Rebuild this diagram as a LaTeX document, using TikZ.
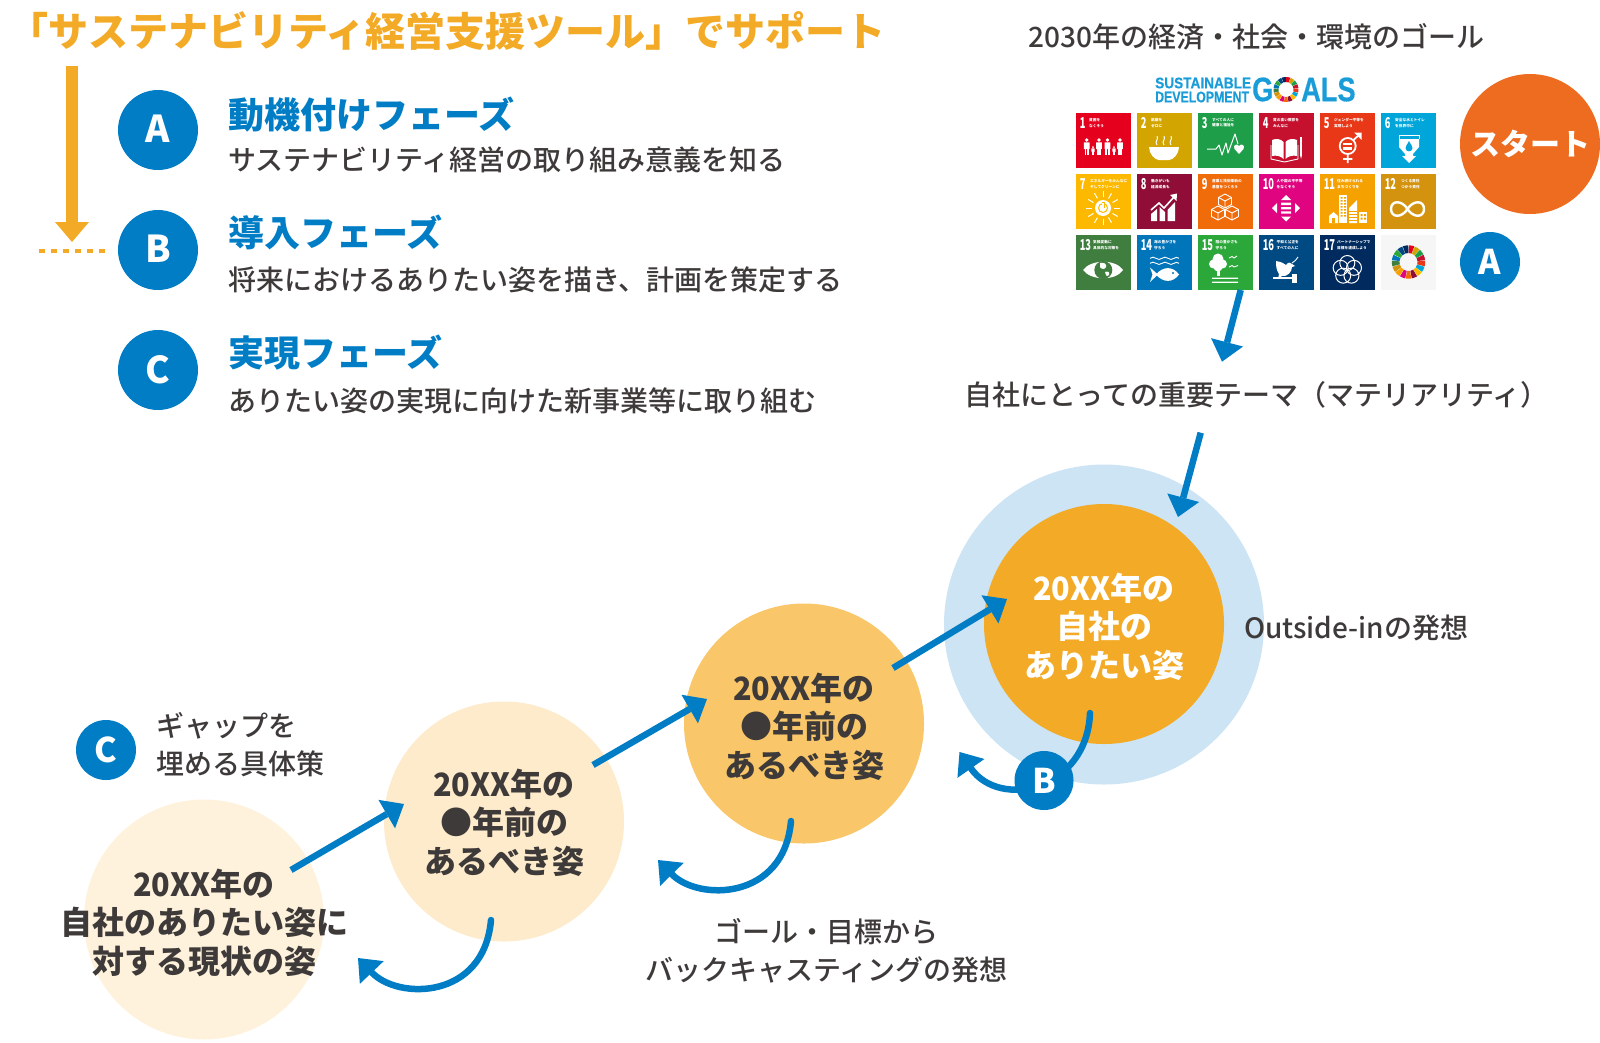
\documentclass[tikz,border=0pt]{standalone}
\usepackage{fontspec}
\usepackage{graphicx}
\setmainfont{Noto Sans CJK JP}
\newfontfamily\jpmedium{Noto Sans CJK JP Medium}
\newfontfamily\logofont[FakeBold=0.5]{Liberation Sans Bold}
\newcommand\xx{\scalebox{.955}[1]{20XX}}
\usetikzlibrary{arrows.meta}
\definecolor{bluemain}{HTML}{007DC5}
\definecolor{orangemain}{HTML}{F3AA26}
\definecolor{inkmain}{HTML}{3E3A39}
\definecolor{ringblue}{HTML}{CCE4F4}
\definecolor{stepthree}{HTML}{F9C769}
\definecolor{steptwo}{HTML}{FDEBCB}
\definecolor{stepone}{HTML}{FEF2DC}
\definecolor{startorange}{HTML}{ED6C20}
\definecolor{logoblue}{HTML}{1A9CD8}
\definecolor{g1}{HTML}{E5001E}
\definecolor{g2}{HTML}{D3A500}
\definecolor{g3}{HTML}{1E9E48}
\definecolor{g4}{HTML}{C5102E}
\definecolor{g5}{HTML}{E83818}
\definecolor{g6}{HTML}{00A6D9}
\definecolor{g7}{HTML}{FDB900}
\definecolor{g8}{HTML}{8F0D36}
\definecolor{g9}{HTML}{F06C0B}
\definecolor{g10}{HTML}{E00480}
\definecolor{g11}{HTML}{F5A200}
\definecolor{g12}{HTML}{D3930F}
\definecolor{g13}{HTML}{3F7E3E}
\definecolor{g14}{HTML}{0075BA}
\definecolor{g15}{HTML}{2CA83A}
\definecolor{g16}{HTML}{004A84}
\definecolor{g17}{HTML}{012A5F}
\definecolor{g18}{HTML}{F6F6F6}
\tikzset{
  txt/.style={inner sep=0pt,outer sep=0pt,text=inkmain},
  badge/.style={circle,fill=bluemain,inner sep=0pt,outer sep=0pt,text=white,font=\fontsize{37}{37}\selectfont\bfseries},
  badgesmall/.style={badge,font=\fontsize{34}{34}\selectfont\bfseries},
  stepcircle/.style={circle,inner sep=0pt,outer sep=0pt,minimum size=240pt},
  steptext/.style={inner sep=0pt,outer sep=0pt,align=center,text=inkmain,font=\fontsize{32}{38.5}\selectfont\bfseries},
  phasehead/.style={txt,anchor=west,text=bluemain,font=\fontsize{36}{36}\selectfont\bfseries},
  phasesub/.style={txt,anchor=west,font=\fontsize{28}{28}\selectfont\jpmedium},
  plainlabel/.style={txt,align=center,font=\fontsize{28}{38}\selectfont\jpmedium},
  flow/.style={draw=bluemain,line width=6.5pt,-{Triangle[length=20pt,width=33pt,line width=0pt]}},
  flowcurve/.style={flow,line cap=round},
  ic/.style={white,line width=.9pt},
  tilenum/.style={inner sep=0pt,anchor=west,text=white,font=\fontsize{15}{15}\selectfont\bfseries},
  tiletitle/.style={inner sep=0pt,anchor=west,text=white,font=\fontsize{3.7}{5.2}\selectfont\bfseries},
  logosmall/.style={inner sep=0pt,anchor=west,text=logoblue,font=\logofont\fontsize{15.4}{15.4}\selectfont},
  logolarge/.style={inner sep=0pt,anchor=west,text=logoblue,font=\logofont\fontsize{34}{34}\selectfont},
}
\newcommand\sdgwheel[4]{%
  \begin{scope}[shift={(#1,#2)}]
  \foreach \i in {1,...,17}{
    \fill[g\i] ({\i*21.176-110.2}:#3) -- ({\i*21.176-100.6}:#3) -- ({\i*21.176-91}:#3)
       -- ({\i*21.176-91}:#4) -- ({\i*21.176-110.2}:#4) -- cycle;
  }
  \end{scope}}
\newcommand\sdgtile[8]{%
  \begin{scope}[shift={(#1,#2)}]
    \fill[#3] (0,0) rectangle (55,55);
    \node[tilenum] (tn#4) at (3.6,10) {\scalebox{.62}[1]{#4}};
    \node[tiletitle,align=left] (tt#4) at (#7,10) {#5\\#6};
    #8
  \end{scope}}
\newcommand\pers[3]{%
  \fill[white] (#1,#2+.12*#3) circle (.11*#3);
  \fill[white,rounded corners=.4pt] (#1-.17*#3,#2+.25*#3) rectangle (#1+.17*#3,#2+.65*#3);
  \fill[white] (#1-.13*#3,#2+.6*#3) rectangle (#1-.02*#3,#2+#3);
  \fill[white] (#1+.02*#3,#2+.6*#3) rectangle (#1+.13*#3,#2+#3);}
\newcommand\isocube[2]{%
  \begin{scope}[shift={(#1,#2)}]
  \draw[ic,line join=round] (0,-7) -- (6.5,-3.5) -- (6.5,3.5) -- (0,7) -- (-6.5,3.5) -- (-6.5,-3.5) -- cycle;
  \draw[ic] (-6.5,-3.5) -- (0,0) -- (6.5,-3.5) (0,0) -- (0,7);
  \end{scope}}
\begin{document}
\begin{tikzpicture}[x=1pt,y=-1pt]
\useasboundingbox (0,0) rectangle (1600,1042);

% title and phase list
\node[txt,anchor=west,text=orangemain,font=\fontsize{40}{40}\selectfont\bfseries] (title) at (9,31) {「サステナビリティ経営支援ツール」でサポート};
\coordinate (orangeS) at (72,66);
\coordinate (orangeE) at (72,242);
\draw[orangemain,line width=12pt,-{Triangle[length=20pt,width=34pt,line width=0pt]}] (orangeS) -- (orangeE);
\coordinate (dotS) at (39,251);
\coordinate (dotE) at (105,251);
\draw[orangemain,line width=4pt,dash pattern=on 6pt off 6pt] (dotS) -- (dotE);

\node[badge,minimum size=80pt] (phA) at (158,130) {\raisebox{2pt}{A}};
\node[badge,minimum size=80pt] (phB) at (158,250) {\raisebox{2pt}{B}};
\node[badge,minimum size=80pt] (phC) at (158,370) {\raisebox{2pt}{C}};
\node[phasehead] (hA) at (228,115) {動機付けフェーズ};
\node[phasesub] (sA) at (228,160) {サステナビリティ経営の取り組み意義を知る};
\node[phasehead] (hB) at (228,232.5) {導入フェーズ};
\node[phasesub] (sB) at (228,280) {将来におけるありたい姿を描き、計画を策定する};
\node[phasehead] (hC) at (228,353) {実現フェーズ};
\node[phasesub] (sC) at (228,400.5) {ありたい姿の実現に向けた新事業等に取り組む};

% top right
\node[plainlabel] (goal2030) at (1256.5,37) {2030年の経済・社会・環境のゴール};
\node[logosmall] (logoA) at (1155,83) {\scalebox{.885}[1]{SUSTAINABLE}};
\node[logosmall] (logoB) at (1155,97) {\scalebox{.80}[1]{DEVELOPMENT}};
\node[logolarge] (logoG) at (1252,89.5) {\scalebox{.8}[1]{G}};
\sdgwheel{1286}{89.5}{12.5}{7.5}
\node[logolarge] (logoC) at (1301,89.5) {\scalebox{.8}[1]{ALS}};

\sdgtile{1076}{113}{g1}{1}{貧困を}{なくそう}{13}{
  \pers{10.7}{25}{17}\pers{23}{25}{17}\pers{31.5}{25}{17}\pers{44}{25}{17}\pers{17}{33}{9}\pers{38}{33}{9}}
\sdgtile{1137}{113}{g2}{2}{飢餓を}{ゼロに}{14}{
  \fill[white] (12,34) -- (42,34) .. controls (42,41) and (36,47) .. (32,47) -- (22,47) .. controls (18,47) and (12,41) .. (12,34) -- cycle;
  \foreach \x in {20,27,34}{\draw[white,line width=1pt] (\x,32) .. controls (\x-3,28) and (\x+2,27) .. (\x,23);}}
\sdgtile{1198}{113}{g3}{3}{すべての人に}{健康と福祉を}{14}{
  \draw[white,line width=1pt,line join=round] (9,36) -- (18,36) -- (21,32) -- (24,42) -- (28,30) -- (30,40) -- (37,21) -- (40,31);
  \fill[white] (41,41) -- (36.5,36) .. controls (34.5,32) and (39,30) .. (41,33) .. controls (43,30) and (47.5,32) .. (45.5,36) -- cycle;}
\sdgtile{1259}{113}{g4}{4}{質の高い教育を}{みんなに}{14}{
  \fill[white] (13,27) .. controls (17,25) and (22,26) .. (24.5,29) -- (24.5,46) .. controls (22,43) and (17,42) .. (13,43) -- cycle;
  \fill[white] (26.5,29) .. controls (29,26) and (34,25) .. (38,27) -- (38,43) .. controls (34,42) and (29,43) .. (26.5,46) -- cycle;
  \draw[ic] (12,32) -- (12,46) -- (25.5,49) -- (39,46) -- (39,32);
  \fill[white] (41,24) rectangle (43,42);
  \fill[white] (41,42) -- (43,42) -- (42,46) -- cycle;}
\sdgtile{1320}{113}{g5}{5}{ジェンダー平等を}{実現しよう}{14}{
  \draw[white,line width=1.8pt] (27.7,33) circle (8);
  \fill[white] (23,29.5) rectangle (32.4,31.7);
  \fill[white] (23,34.3) rectangle (32.4,36.5);
  \draw[white,line width=1.8pt] (27.7,41) -- (27.7,50) (23,46) -- (32.4,46) (33.5,27) -- (40,21);
  \fill[white] (34,19.5) -- (41.5,19.5) -- (41.5,27) -- cycle;}
\sdgtile{1381}{113}{g6}{6}{安全な水とトイレ}{を世界中に}{14}{
  \fill[white] (18,26) -- (38,26) -- (38,34) -- (32,41) -- (32,43) -- (35,43) -- (28,50) -- (21,43) -- (24,43) -- (24,41) -- (18,34) -- cycle;
  \draw[ic] (18,26) -- (18,22) -- (38,22) -- (38,26);
  \fill[g6] (28,28) .. controls (26,32) and (24.5,33) .. (24.5,35) .. controls (24.5,39.5) and (31.5,39.5) .. (31.5,35) .. controls (31.5,33) and (30,32) .. (28,28) -- cycle;}
\sdgtile{1076}{174}{g7}{7}{エネルギーをみんなに}{そしてクリーンに}{14}{
  \begin{scope}[shift={(27,34)}]
  \foreach \a in {0,30,...,330}{\draw[white,line width=1pt] (\a:11) -- (\a:17);}
  \fill[white] (0,0) circle (8);
  \draw[g7,line width=1pt] (0,0) circle (4.5);
  \fill[g7] (-1.5,-6) rectangle (1.5,0);
  \fill[white] (-.6,-5.5) rectangle (.6,.5);
  \end{scope}}
\sdgtile{1137}{174}{g8}{8}{働きがいも}{経済成長も}{14}{
  \fill[white] (14,40) -- (20,35) -- (20,47) -- (14,47) -- cycle;
  \fill[white] (22.5,33) -- (28,38) -- (28,47) -- (22.5,47) -- cycle;
  \fill[white] (30.5,36) -- (38,28) -- (38,47) -- (30.5,47) -- cycle;
  \draw[white,line width=1.6pt] (14,36) -- (22,29) -- (27,34) -- (37,23);
  \fill[white] (33,21) -- (40,19.5) -- (39.5,27) -- cycle;}
\sdgtile{1198}{174}{g9}{9}{産業と技術革新の}{基盤をつくろう}{14}{
  \isocube{27}{27}\isocube{20}{39}\isocube{34}{39}}
\sdgtile{1259}{174}{g10}{10}{人や国の不平等}{をなくそう}{17.5}{
  \fill[white] (27,21) -- (32,26) -- (22,26) -- cycle;
  \fill[white] (27,47.5) -- (32,42.5) -- (22,42.5) -- cycle;
  \fill[white] (13,34.2) -- (18,29.2) -- (18,39.2) -- cycle;
  \fill[white] (41,34.2) -- (36,29.2) -- (36,39.2) -- cycle;
  \fill[white] (22,28.7) rectangle (32,31) (22,33) rectangle (32,35.4) (22,37.4) rectangle (32,39.7);}
\sdgtile{1320}{174}{g11}{11}{住み続けられる}{まちづくりを}{17}{
  \fill[white] (19,21) rectangle (27,49);
  \foreach \y in {23,26,29,32,35,38,41}{\fill[g11] (20.5,\y) rectangle (22.5,\y+1.5) (24,\y) rectangle (26,\y+1.5);}
  \fill[white] (29,49) -- (29,34) -- (37,26) -- (37,49) -- cycle;
  \foreach \y in {37,40,43,46}{\draw[g11,line width=.4pt] (29,\y) -- (37,\y);}
  \fill[white] (39,38) rectangle (47,49);
  \foreach \y in {40,43.5}{\fill[g11] (40.5,\y) rectangle (42.5,\y+2) (44,\y) rectangle (46,\y+2);}
  \fill[white] (9,49) -- (9,42) -- (13.5,38) -- (18,42) -- (18,49) -- cycle;
  \fill[g11] (12,44) rectangle (15,49);}
\sdgtile{1381}{174}{g12}{12}{つくる責任}{つかう責任}{20}{
  \draw[white,line width=2.4pt] (26.5,35) .. controls (21,26) and (10,26) .. (10,35) .. controls (10,44) and (21,44) .. (26.5,35) .. controls (32,26) and (43,26) .. (43,35) .. controls (43,44) and (32,44) .. (26.5,35) -- cycle;}
\sdgtile{1076}{235}{g13}{13}{気候変動に}{具体的な対策を}{17}{
  \fill[white] (7,35) .. controls (15,24) and (40,24) .. (47,35) .. controls (40,46) and (15,46) .. (7,35) -- cycle;
  \fill[g13] (27.3,35) circle (9);
  \fill[white] (24,28) .. controls (28,27) and (31,29) .. (30,32) .. controls (29,35) and (25,34) .. (24,32) -- cycle;
  \fill[white] (29,37) .. controls (32,36) and (34,37) .. (33,40) .. controls (32,42) and (30,42) .. (29,37) -- cycle;}
\sdgtile{1137}{235}{g14}{14}{海の豊かさを}{守ろう}{17}{
  \foreach \y in {23.3,28.3}{
    \draw[ic] (13,\y) .. controls (15,\y-1.5) and (17,\y-1.5) .. (19,\y) .. controls (21,\y+1.5) and (23,\y+1.5) .. (25,\y) .. controls (27,\y-1.5) and (29,\y-1.5) .. (31,\y) .. controls (33,\y+1.5) and (35,\y+1.5) .. (37,\y) .. controls (38.5,\y-1.2) and (40,\y-1.2) .. (42,\y);}
  \fill[white] (19,39.5) .. controls (26,31) and (36,31) .. (42,39.5) .. controls (36,48) and (26,48) .. (19,39.5) -- cycle;
  \fill[white] (13,32.5) -- (21,39.5) -- (13,47) -- (15.5,39.5) -- cycle;
  \fill[g14] (36,38) circle (1.2);}
\sdgtile{1198}{235}{g15}{15}{陸の豊かさも}{守ろう}{17.5}{
  \fill[white] (19,31) rectangle (21.5,41);
  \fill[white] (20,24) circle (5.5) (15.5,29) circle (4.5) (24.5,29) circle (4.5) (20,32) circle (4.5);
  \fill[white] (14,42.5) rectangle (40,43.8) (14,46.5) rectangle (40,47.8);
  \draw[ic] (31,23) -- (34,21.5) -- (36,23) -- (39,21);
  \draw[ic] (31,32) -- (34,30.5) -- (36,32) -- (40,30.5);}
\sdgtile{1259}{235}{g16}{16}{平和と公正を}{すべての人に}{17.5}{
  \fill[white] (17,26) .. controls (22,27) and (25,28) .. (27,30) .. controls (29,27) and (32,27) .. (33,29) -- (36,31) -- (33,32) .. controls (33,37) and (28,42) .. (23,41) -- (19,44) -- (20,39) .. controls (17,35) and (17,30) .. (17,26) -- cycle;
  \draw[ic] (33,28) .. controls (35,27) and (37,25) .. (39,22);
  \fill[white] (14,42.2) rectangle (33,44);
  \fill[white] (33,38.5) rectangle (38,47.5);}
\sdgtile{1320}{235}{g17}{17}{パートナーシップで}{目標を達成しよう}{17}{
  \begin{scope}[shift={(27.3,35)}]
  \foreach \a in {-90,-18,54,126,198}{\draw[white,line width=1pt] (\a:7) circle (7.5);}
  \end{scope}}
\fill[g18] (1381,235) rectangle (1436,290);
\sdgwheel{1408.5}{262}{16.7}{9}

\node[badge,minimum size=140pt,font=\fontsize{30}{30}\selectfont\bfseries,fill=startorange] (start) at (1530,144) {\raisebox{3pt}{スタート}};
\node[badgesmall,minimum size=60pt] (markA) at (1490,262) {\raisebox{1pt}{A}};
\node[plainlabel] (materiality) at (1256.5,395) {自社にとっての重要テーマ（マテリアリティ）};
\coordinate (sdgOut) at (1240.7,290);
\coordinate (matIn) at (1222,361.7);
\draw[flow] (sdgOut) -- (matIn);

% steps
\node[circle,fill=ringblue,inner sep=0pt,minimum size=320pt] (ring) at (1104,624.5) {};
\node[stepcircle,fill=orangemain] (stepD) at (1104,624) {};
\node[stepcircle,fill=stepthree] (stepC) at (804,723.5) {};
\node[stepcircle,fill=steptwo] (stepB) at (504,821.5) {};
\node[stepcircle,fill=stepone] (stepA) at (204,919.5) {};
\node[steptext,text=white] (textD) at (1104,626.5) {\xx 年の\\自社の\\ありたい姿};
\node[steptext] (textC) at (804,726.5) {\xx 年の\\●年前の\\あるべき姿};
\node[steptext] (textB) at (504,822.5) {\xx 年の\\●年前の\\あるべき姿};
\node[steptext] (textA) at (204,922.5) {\xx 年の\\自社のありたい姿に\\対する現状の姿};

\coordinate (matOut) at (1200.7,432.7);
\coordinate (ringIn) at (1178,517);
\draw[flow] (matOut) -- (ringIn);
\coordinate (a1s) at (291,870);
\coordinate (a1e) at (404,804);
\coordinate (a2s) at (593,765);
\coordinate (a2e) at (707,699);
\coordinate (a3s) at (893,668);
\coordinate (a3e) at (1007,599);
\draw[flow] (a1s) -- (a1e);
\draw[flow] (a2s) -- (a2e);
\draw[flow] (a3s) -- (a3e);

\coordinate (c1s) at (491,920);
\coordinate (c1e) at (358,958);
\draw[flowcurve] (c1s) .. controls (484,1000) and (398,1000) .. (c1e);
\coordinate (c2s) at (791,821);
\coordinate (c2e) at (658,860);
\draw[flowcurve] (c2s) .. controls (784,901) and (698,901) .. (c2e);
\coordinate (c3s) at (1090,713);
\coordinate (c3e) at (959.5,752);
\draw[flowcurve] (c3s) .. controls (1087,790) and (1000,810) .. (c3e);
\node[badgesmall,minimum size=59pt] (markB) at (1044,780.5) {B};

\node[txt,anchor=west,font=\fontsize{28}{28}\selectfont\jpmedium] (outside) at (1244,627.5) {Outside-inの発想};
\node[badgesmall,minimum size=60pt] (markC) at (106,750) {C};
\node[txt,anchor=west,align=left,font=\fontsize{28}{38}\selectfont\jpmedium] (gap) at (156.5,744.5) {ギャップを\\埋める具体策};
\node[plainlabel] (back) at (826.3,950.5) {ゴール・目標から\\バックキャスティングの発想};
\end{tikzpicture}
\end{document}
